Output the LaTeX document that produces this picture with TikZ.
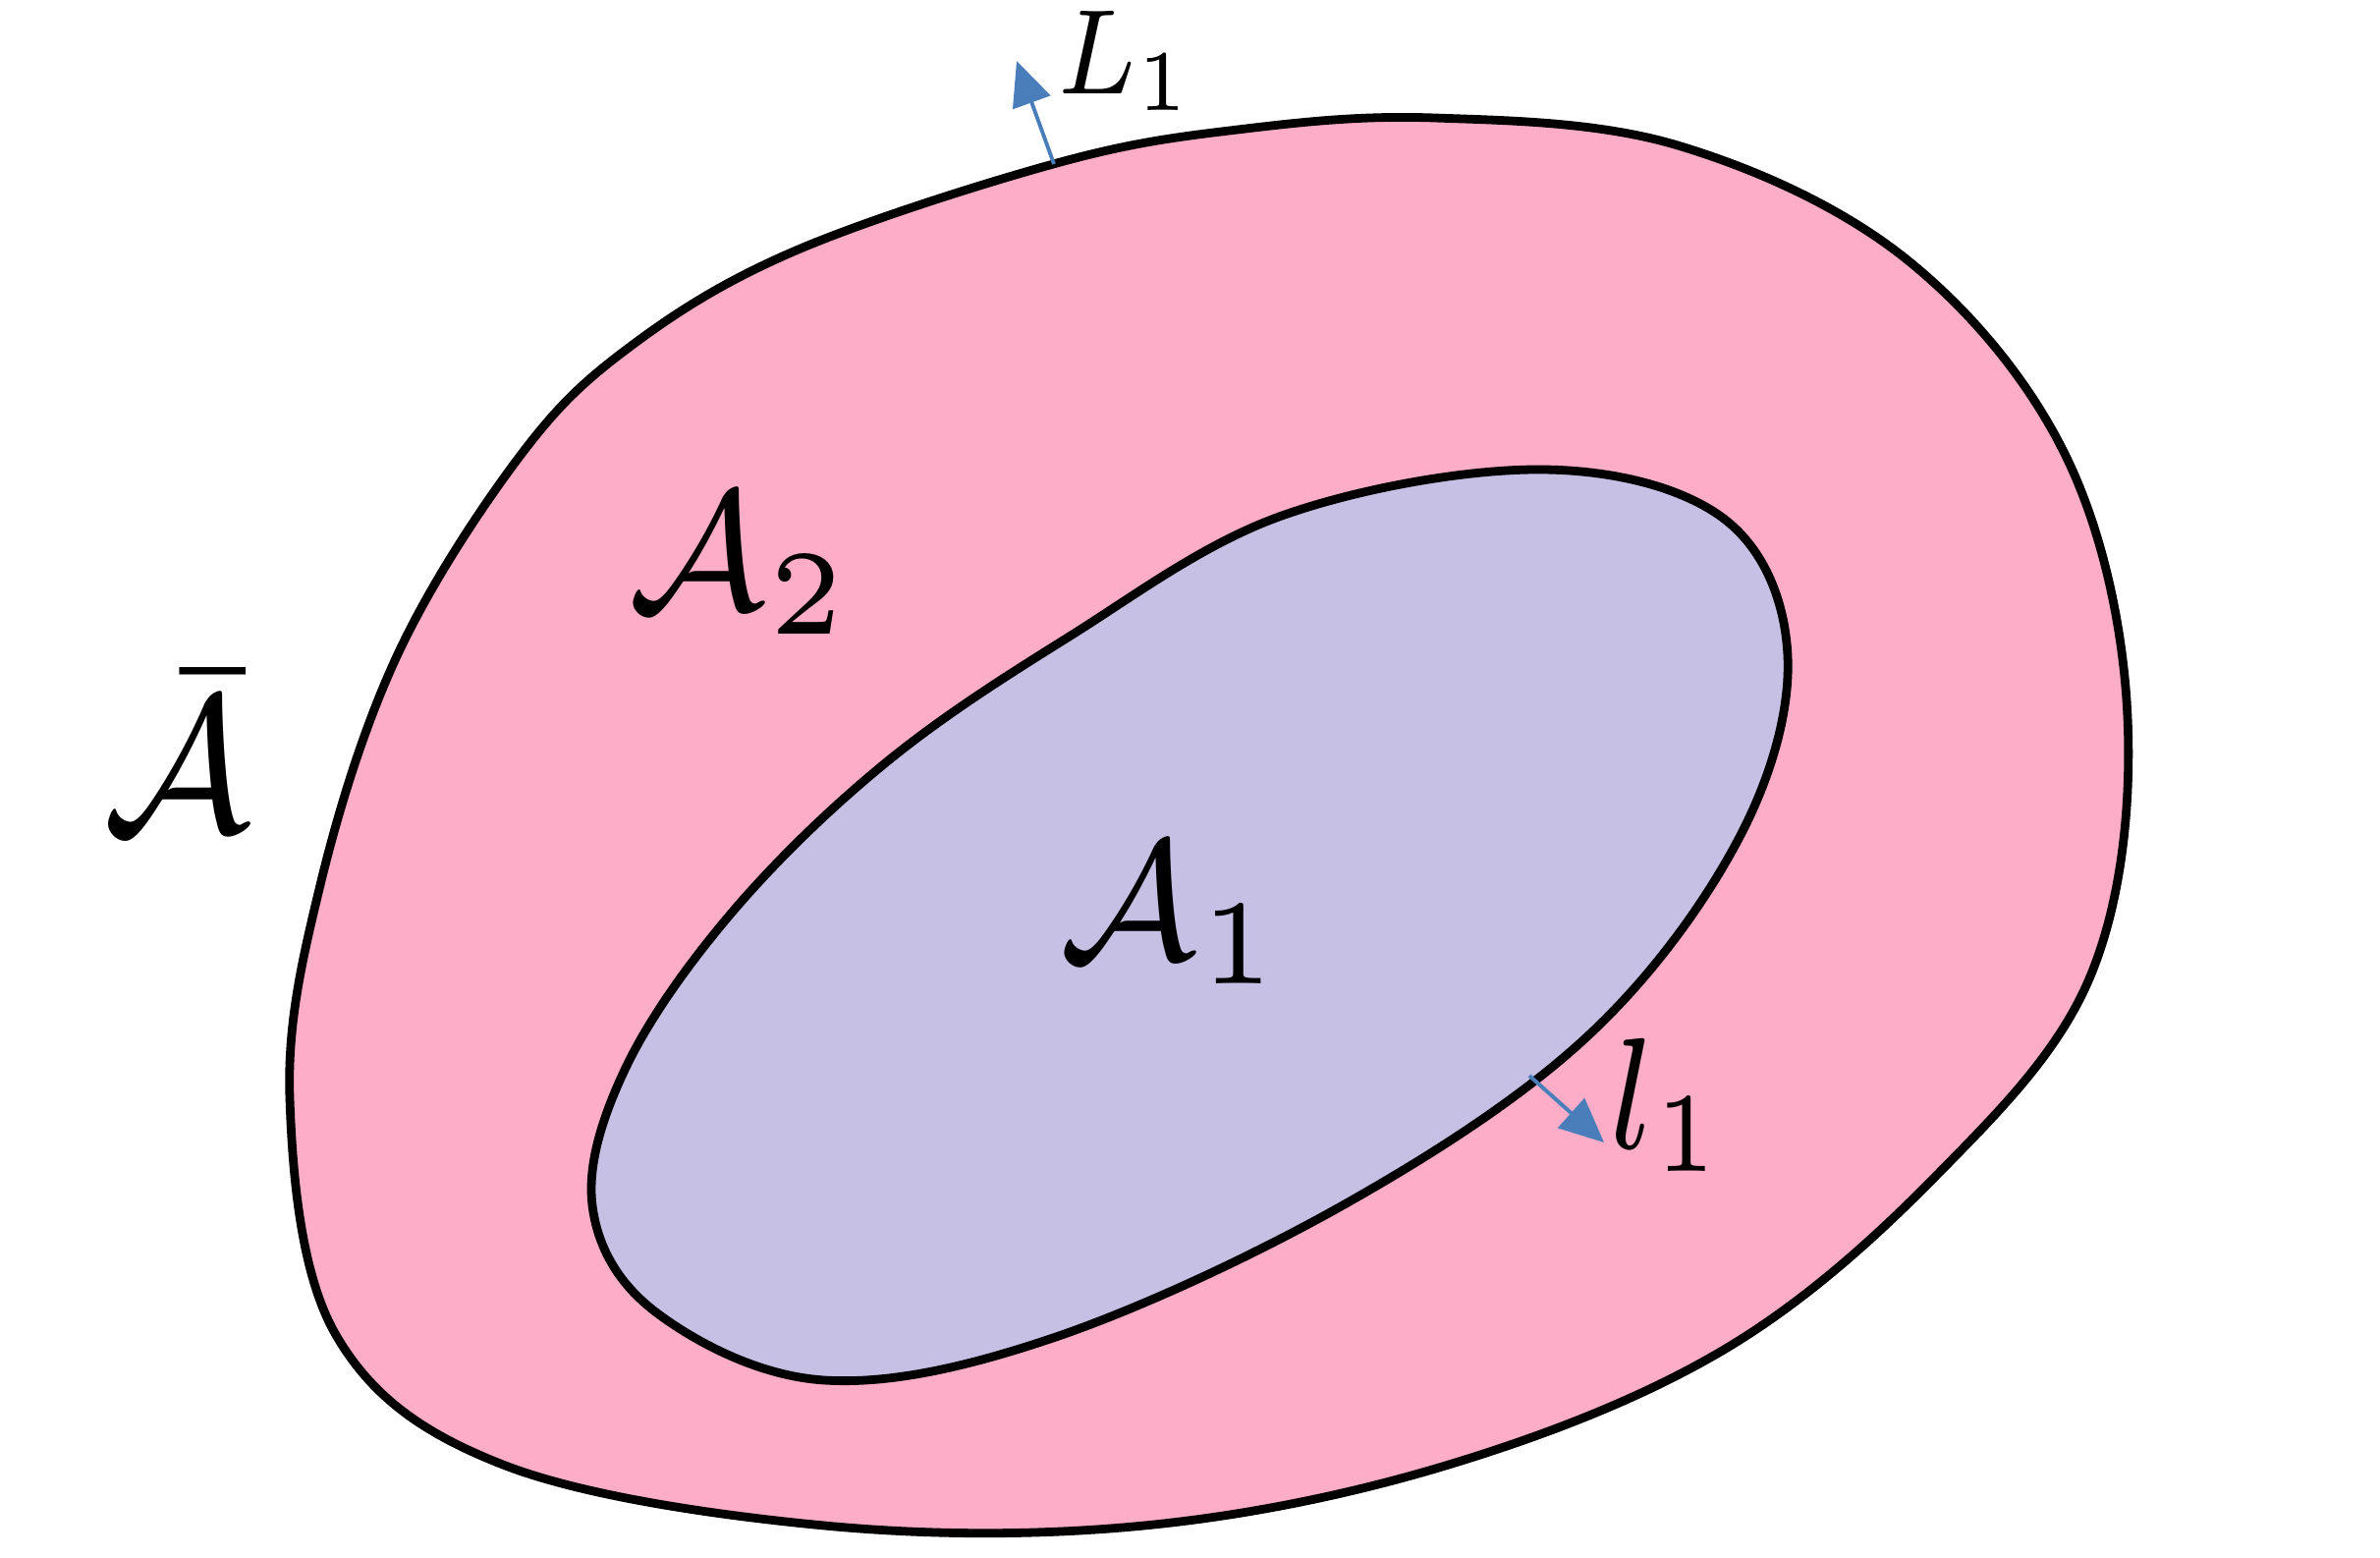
\documentclass[tikz,border=0pt]{standalone}
\usepackage{amsmath,amssymb}
\usepackage{graphicx}
\usepackage{xcolor}
\usepackage{tikz}
\usetikzlibrary{arrows.meta, positioning}

\definecolor{region_pink}{RGB}{253,173,199}
\definecolor{region_lilac}{RGB}{199,192,229}
\definecolor{normal_blue}{RGB}{74,126,187}

\begin{document}
\begin{tikzpicture}[x=0.01cm, y=-0.01cm]
            % Region styles
            \tikzstyle{outer_region} = [draw=black, fill=region_pink, line width=2.5pt, line join=round]
            \tikzstyle{inner_region} = [draw=black, fill=region_lilac, line width=2.5pt, line join=round]
            \tikzstyle{normal_arrow} = [draw=normal_blue, line width=1.1pt, -{Triangle[length=12.8pt, width=11.4pt]}, normal_blue]
            \tikzstyle{set_label} = [inner sep=0pt]
            \useasboundingbox (0,0) rectangle (2423,1586);
            % Outer domain
            \draw[outer_region] plot[smooth cycle, tension=0.6] coordinates {
                (1460,120) (1708,148) (1941,264) (2104,466) (2166,730) (2128,994)
                (1972,1196) (1755,1374) (1475,1491) (1165,1553) (839,1553) (512,1491)
                (342,1359) (295,1118) (326,901) (404,668) (528,466) (640,354)
                (808,256) (1076,166) (1260,132)};
            % Inner domain
            \draw[inner_region] plot[smooth cycle, tension=0.6] coordinates {
                (1569,478) (1755,528) (1820,668) (1770,854) (1615,1056) (1367,1227)
                (1072,1362) (839,1405) (668,1336) (603,1227) (637,1087) (745,929)
                (901,777) (1087,649) (1305,525)};
            % Labels
            \node[set_label] (A_bar) at (180,765) {\scalebox{6.9}[8]{$\scriptstyle\bar{\mathcal{A}}$}};
            \node[set_label] (A_two) at (754,574) {\scalebox{6.4}[7]{$\scriptstyle\mathcal{A}_2$}};
            \node[set_label] (A_one) at (1193,930) {\scalebox{6.4}[7]{$\scriptstyle\mathcal{A}_1$}};
            \node[set_label] (L_one) at (1146,62) {\scalebox{4.3}[5]{$\scriptstyle L_1$}};
            \node[set_label] (l_one) at (1697,1125) {\scalebox{5.3}[6.57]{$\scriptstyle l_1$}};
            % Normals
            \coordinate (L_base) at (1073,167);
            \coordinate (L_tip) at (1035,62);
            \coordinate (l_base) at (1557,1095);
            \coordinate (l_tip) at (1633,1163);
            \draw[normal_arrow] (L_base) -- (L_tip);
            \draw[normal_arrow] (l_base) -- (l_tip);
        \end{tikzpicture}
\end{document}
